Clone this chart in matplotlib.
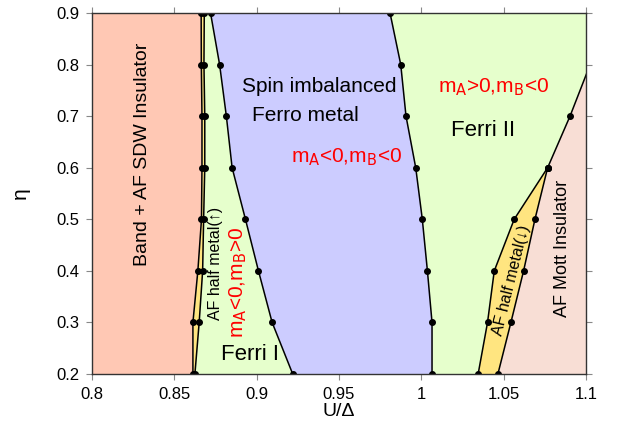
import matplotlib
matplotlib.use("Agg")
import matplotlib.pyplot as plt
import numpy as np

plt.rcParams['font.family'] = ['Liberation Sans', 'DejaVu Sans']

# ---- data ----
eta = [0.2, 0.3, 0.4, 0.5, 0.6, 0.7, 0.8, 0.9]
sdw_edge = [0.8613, 0.8613, 0.8643, 0.8665, 0.8668, 0.8668, 0.8664, 0.8663]
hm_up_edge = [0.8625, 0.8651, 0.8672, 0.8678, 0.8685, 0.8685, 0.8680, 0.8682]
ferro_left = [0.9219, 0.9094, 0.9011, 0.8932, 0.8851, 0.8816, 0.8775, 0.8720]
ferro_right = [1.0065, 1.0065, 1.0037, 1.0006, 0.9966, 0.9907, 0.9875, 0.9810]

eta_r = [0.2, 0.3, 0.4, 0.5, 0.6]
hm_dn_left = [1.0345, 1.0402, 1.0443, 1.0564, 1.0767]
hm_dn_right = [1.0465, 1.0544, 1.0621, 1.0690, 1.0767]
eta_top = [0.6, 0.7, 0.8]
mott_top = [1.0767, 1.0903, 1.1025]

xticks = [0.8, 0.85, 0.9, 0.95, 1.0, 1.05, 1.1]
xticklabels = ['0.8', '0.85', '0.9', '0.95', '1', '1.05', '1.1']
yticks = [0.2, 0.3, 0.4, 0.5, 0.6, 0.7, 0.8, 0.9]

c_sdw = '#FFC8B4'
c_yel = '#FFE580'
c_grn = '#E6FFCC'
c_lav = '#CCCCFF'
c_mott = '#F8DED5'

fig = plt.figure(figsize=(6.24, 4.23), dpi=100)
ax = fig.add_axes([0.1474, 0.1158, 0.7917, 0.8535])
ax.set_xlim(0.8, 1.1)
ax.set_ylim(0.2, 0.9)

# fills
ax.fill_betweenx(eta, 0.8, sdw_edge, color=c_sdw, lw=0)
ax.fill_betweenx(eta, sdw_edge, hm_up_edge, color=c_yel, lw=0)
ax.fill_betweenx(eta, hm_up_edge, ferro_left, color=c_grn, lw=0)
ax.fill_betweenx(eta, ferro_left, ferro_right, color=c_lav, lw=0)
ax.fill_betweenx(eta, ferro_right, 1.12, color=c_grn, lw=0)

mott_x = list(hm_dn_right) + mott_top[1:] + [1.12, 1.12]
mott_y = list(eta_r) + eta_top[1:] + [eta_top[-1], eta_r[0]]
ax.fill(mott_x, mott_y, color=c_mott, lw=0)
hm_x = list(hm_dn_left) + hm_dn_right[::-1]
hm_y = list(eta_r) + eta_r[::-1]
ax.fill(hm_x, hm_y, color=c_yel, lw=0)

# boundaries
kw = dict(color='black', lw=1.1, marker='o', ms=4)
ax.plot(sdw_edge, eta, **kw)
ax.plot(hm_up_edge, eta, **kw)
ax.plot(ferro_left, eta, **kw)
ax.plot(ferro_right, eta, **kw)
ax.plot(hm_dn_left, eta_r, **kw)
ax.plot(hm_dn_right, eta_r, **kw)
ax.plot(mott_top, eta_top, **kw)

# labels
ax.text(0.8304, 0.626, 'Band + AF SDW Insulator', rotation=90, fontsize=14,
        ha='center', va='center')
ax.text(0.9382, 0.758, 'Spin imbalanced', fontsize=15, ha='center', va='center')
ax.text(0.9293, 0.702, 'Ferro metal', fontsize=15, ha='center', va='center')
ax.text(0.9545, 0.621, r'm$_\mathrm{A}$<0,m$_\mathrm{B}$<0', fontsize=15,
        color='red', ha='center', va='center')
ax.text(1.044, 0.756, r'm$_\mathrm{A}$>0,m$_\mathrm{B}$<0', fontsize=15,
        color='red', ha='center', va='center')
ax.text(1.0374, 0.673, 'Ferri II', fontsize=16, ha='center', va='center')
ax.text(0.8962, 0.237, 'Ferri I', fontsize=16, ha='center', va='center')
ax.text(0.8749, 0.415, 'AF half metal(\u2191)', rotation=90, fontsize=11.5,
        ha='center', va='center')
ax.text(0.8889, 0.378, r'm$_\mathrm{A}$<0,m$_\mathrm{B}$>0', rotation=90,
        fontsize=15, color='red', ha='center', va='center')
ax.text(1.0544, 0.382, 'AF half metal(\u2193)', rotation=76, fontsize=11.5,
        ha='center', va='center', rotation_mode='anchor')
ax.text(1.0858, 0.443, 'AF Mott Insulator', rotation=90, fontsize=13,
        ha='center', va='center')

ax.set_xticks(xticks)
ax.set_xticklabels(xticklabels)
ax.set_yticks(yticks)
ax.tick_params(direction='out', length=4, color='#888888', labelsize=12,
               top=True, right=True, labeltop=False, labelright=False, pad=5)
for s in ax.spines.values():
    s.set_color('#333333')
    s.set_linewidth(1.0)
ax.set_xlabel('U/\u0394', fontsize=14, labelpad=1)
ax.set_ylabel('\u03b7', fontsize=15, labelpad=19)

fig.savefig('out.png', dpi=100)
